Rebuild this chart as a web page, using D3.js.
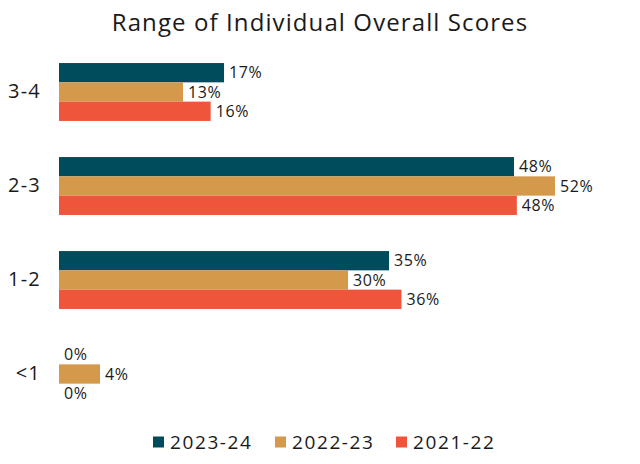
<!DOCTYPE html>
<html>
<head>
<meta charset="utf-8">
<script src="https://cdn.jsdelivr.net/npm/d3@7"></script>
<style>
  body { margin: 0; background: #fff; }
  text { font-family: "Open Sans", "Noto Sans", sans-serif; fill: #1a1a1a; }
</style>
</head>
<body>
<div id="chart"></div>
<script>
// Data
var categories = ["3-4", "2-3", "1-2", "<1"];
var seriesNames = ["2023-24", "2022-23", "2021-22"];
var values2324 = [17.3, 47.7, 34.6, 0];
var values2223 = [13.0, 52.0, 30.3, 4.3];
var values2122 = [15.9, 48.0, 35.9, 0];
var labels2324 = ["17%", "48%", "35%", "0%"];
var labels2223 = ["13%", "52%", "30%", "4%"];
var labels2122 = ["16%", "48%", "36%", "0%"];
var colors = ["#004c5c", "#d4994a", "#ef553b"];

var svgWidth = 640;
var svgHeight = 464;

var margin = { top: 48, right: 40, bottom: 70, left: 59 };
var chartWidth = svgWidth - margin.left - margin.right;
var chartHeight = svgHeight - margin.top - margin.bottom;

var svg = d3.select("#chart")
  .append("svg")
  .attr("width", svgWidth)
  .attr("height", svgHeight);

// Title
svg.append("text")
  .attr("x", 320)
  .attr("y", 31)
  .attr("text-anchor", "middle")
  .style("font-size", "24px")
  .style("letter-spacing", "1.1px")
  .text("Range of Individual Overall Scores");

var chartGroup = svg.append("g")
  .attr("transform", `translate(${margin.left}, ${margin.top})`);

var series = seriesNames.map(function(name, i) {
  return {
    name: name,
    color: colors[i],
    values: [values2324, values2223, values2122][i],
    labels: [labels2324, labels2223, labels2122][i]
  };
});

// x scale in percent
var xScale = d3.scaleLinear()
  .domain([0, 52])
  .range([0, 496]);

// y scales for groups and bars within group
var yScale = d3.scaleBand()
  .domain(categories)
  .range([0, 370])
  .paddingInner(0.384)
  .paddingOuter(0.16);

var yInner = d3.scaleBand()
  .domain(seriesNames)
  .range([0, yScale.bandwidth()]);

// Category axis (no line, no ticks)
var leftAxis = d3.axisLeft(yScale).tickSize(0).tickPadding(18);
var axisG = chartGroup.append("g").call(leftAxis);
axisG.select(".domain").remove();
axisG.selectAll("text")
  .style("font-size", "20px")
  .style("letter-spacing", "1.2px")
  .style("font-family", "\"Open Sans\", \"Noto Sans\", sans-serif")
  .attr("fill", "#1a1a1a");

var groups = chartGroup.selectAll(".group")
  .data(categories)
  .enter()
  .append("g")
  .attr("class", "group")
  .attr("transform", d => `translate(0, ${yScale(d)})`);

groups.each(function(cat, ci) {
  var g = d3.select(this);
  series.forEach(function(s) {
    g.append("rect")
      .attr("x", 0)
      .attr("y", yInner(s.name))
      .attr("width", xScale(s.values[ci]))
      .attr("height", yInner.bandwidth())
      .attr("fill", s.color);

    g.append("text")
      .attr("x", xScale(s.values[ci]) + 5)
      .attr("y", yInner(s.name) + yInner.bandwidth() / 2)
      .attr("dy", "0.36em")
      .style("font-size", "16px")
      .style("letter-spacing", "0.6px")
      .text(s.labels[ci]);
  });
});

// Legend
var legendX = [153, 275, 396];
var legend = svg.append("g")
  .attr("transform", "translate(0, 442)");

series.forEach(function(s, i) {
  legend.append("rect")
    .attr("x", legendX[i])
    .attr("y", -5.5)
    .attr("width", 11)
    .attr("height", 11)
    .attr("fill", s.color);
  legend.append("text")
    .attr("x", legendX[i] + 17)
    .attr("y", 0)
    .attr("dy", "0.36em")
    .style("font-size", "19px")
    .style("letter-spacing", "1.6px")
    .text(s.name);
});
</script>
</body>
</html>
